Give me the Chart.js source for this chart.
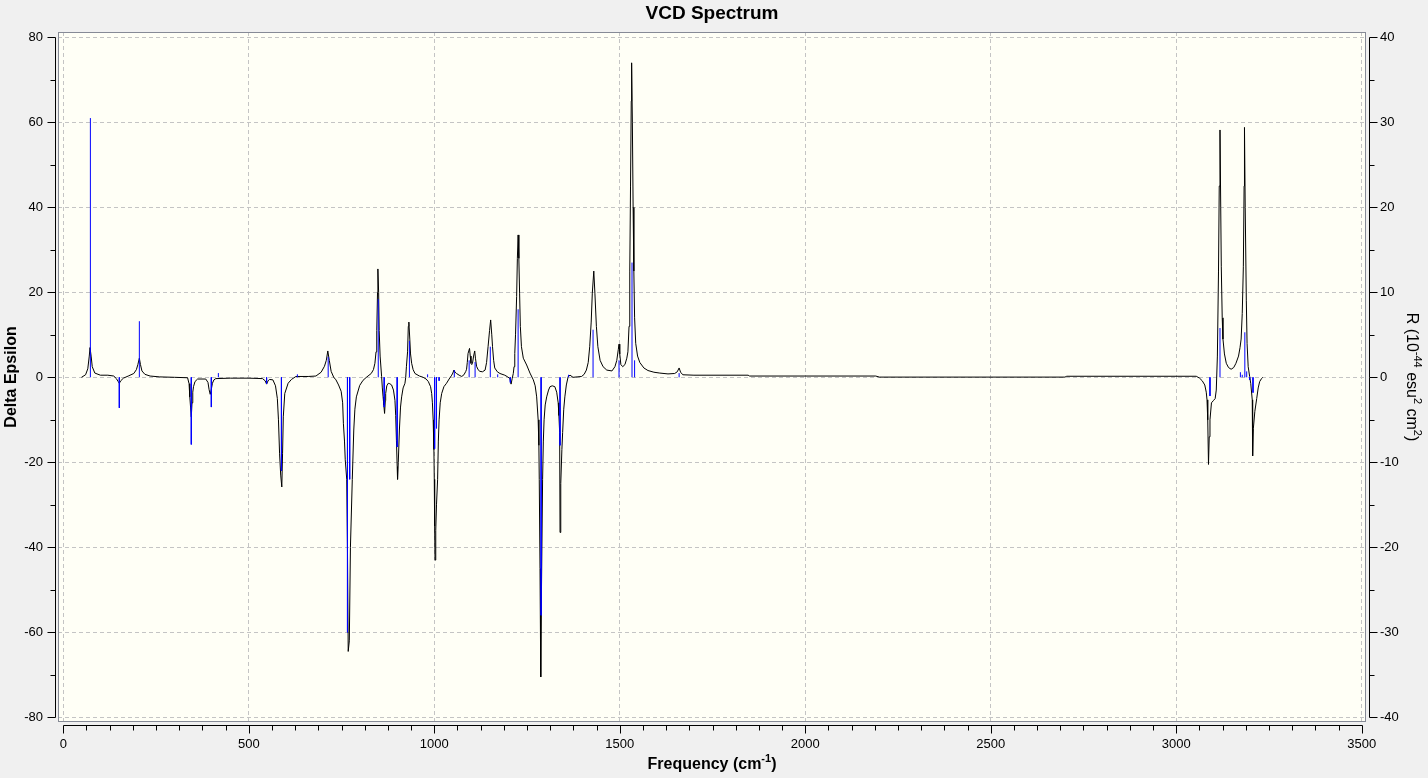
<!DOCTYPE html>
<html>
<head>
<meta charset="utf-8">
<title>VCD Spectrum</title>
<script src="https://cdn.jsdelivr.net/npm/chart.js@4.4.1/dist/chart.umd.min.js"></script>
<style>
  html, body { margin: 0; padding: 0; background: #f0f0f0; overflow: hidden; }
  canvas { display: block; }
</style>
</head>
<body>
<canvas id="chart" width="1428" height="778"></canvas>
<script>
(function () {
  'use strict';

  /* ── Data ──────────────────────────────────────── */

  const xTicks = [0, 500, 1000, 1500, 2000, 2500, 3000, 3500];
  const leftTicks = [-80, -60, -40, -20, 0, 20, 40, 60, 80];
  const rightTicks = [-40, -30, -20, -10, 0, 10, 20, 30, 40];

  // broadened spectrum: [frequency (cm-1), delta epsilon]
  const curveLow = [
    [49, 0], [60, 0.6], [66, 2], [70, 5], [72, 7], [75, 5], [78, 2.5], [85, 1],
    [100, 0.5], [120, 0.5], [136, 0.3], [143, -0.3], [148, -1], [151, -1.4],
    [155, -0.8], [162, -0.2], [175, 0.3], [190, 0.9], [197, 1.8], [201, 3],
    [205, 4.5], [208, 3], [212, 1.5], [220, 0.7], [234, 0.3], [260, 0.1],
    [300, 0], [335, -0.1], [339, -1.5], [341, -4.6], [343, -7], [345, -9.3],
    [347, -6], [349, -3.5], [351, -2.2], [355, -1], [362, -0.4], [384, -0.4],
    [390, -1.2], [393, -2.9], [396, -4], [399, -2.8], [402, -1.4], [406, -0.6],
    [411, -0.3], [450, -0.2], [500, -0.2], [537, -0.3], [544, -0.8], [548, -1.6],
    [552, -0.8], [556, -0.5], [565, -0.6], [572, -2], [577, -5], [580, -10],
    [583, -18], [586, -23], [589, -25.8], [591, -18], [593, -9.3], [597, -3.8],
    [606, -1.4], [615, -0.5], [627, 0.2], [660, 0.2], [681, 0.3], [695, 1.2]
  ];
  const curveMid = [
    [704, 2.6], [709, 4], [713, 6.2], [717, 4], [722, 1.4], [729, 0], [735, -0.6],
    [742, -1.8], [749, -3.3], [753, -6], [755, -10.8], [758, -15], [760, -19.4],
    [764, -24], [766, -40], [768, -64.5], [771, -62], [774, -40], [779, -24],
    [783, -12.4], [786, -7.5], [790, -4.6], [799, -1.9], [808, -0.7], [817, 0],
    [830, 0.9], [836, 1.8], [840, 3.3], [843, 6], [845, 11], [847, 20], [848, 25.5],
    [850, 20], [851.5, 11], [854, 5], [858, 0.2], [860, -2.5], [862, -4.6],
    [864, -6.5], [866, -8.5], [868, -5.5], [869, -3.8], [872, -2], [876, -1.4],
    [880, -1.5], [885, -1.8], [890, -3], [894, -5.4], [896, -9], [898, -14.8],
    [900, -21], [901, -24], [903, -20], [906, -12.4], [909, -7], [912, -4.6],
    [916, -2.5], [921, -1.4], [923, 0], [925, 2.6], [928, 6], [930, 12], [931.5, 13],
    [934, 9], [936, 5.5], [939, 3.3], [943, 1.8], [948, 0.9], [960, 0.3], [970, 0],
    [978, -0.4], [984, -1], [990, -2.2], [993, -3.8], [995, -6], [997, -10],
    [999, -17], [1000, -24], [1001, -35], [1002, -43], [1004, -36], [1006, -30],
    [1009, -24], [1011, -15], [1013, -10], [1016, -6], [1020, -3.8], [1026, -2.2],
    [1033, -1.4], [1040, -0.4], [1047, 0.5], [1050, 1], [1053, 1.7], [1056, 1.2],
    [1060, 0.9], [1067, 0.5], [1074, 0.2], [1080, 0.6], [1085, 1.4], [1087, 1.9],
    [1089, 3.5], [1091, 5.6], [1095, 6.8], [1097, 5], [1099, 3.3], [1101, 3],
    [1103, 3.3], [1106, 5], [1109, 6.2], [1111, 4.5], [1114, 2.6], [1118, 1.8],
    [1123, 1.4], [1130, 1.3], [1137, 1.7], [1141, 3.5], [1145, 7.2], [1149, 11],
    [1152, 13.5], [1155, 10], [1157, 7.2], [1160, 4], [1163, 2.2], [1170, 1.3],
    [1177, 0.9], [1190, 0.5], [1198, 0.1], [1204, -0.3], [1207, -1.6], [1210, -0.3],
    [1213, 0.9], [1215, 2.5], [1217, 5.6], [1219, 10], [1222, 19], [1224, 28],
    [1226, 33.5], [1228, 28], [1230, 19.8], [1232, 12], [1235, 7.2], [1240, 4.5],
    [1249, 2.9]
  ];
  const curveHigh = [
    [1258, 1], [1267, -0.6], [1272, -2], [1276, -4.6], [1280, -10], [1282, -16],
    [1283, -24], [1285, -45], [1287, -70.5], [1289, -50], [1292, -24], [1294, -15],
    [1296, -10], [1299, -6.5], [1303, -4.6], [1308, -3], [1312, -2.2], [1318, -2],
    [1325, -2.2], [1330, -3.5], [1334, -6], [1336, -9], [1338, -13], [1339, -36.5],
    [1341, -25], [1344, -17], [1346, -13], [1349, -7.5], [1352, -4.6], [1356, -1.8],
    [1361, 0.2], [1366, 0.5], [1374, 0], [1385, 0.1], [1397, 0.2], [1404, 0.7],
    [1410, 1.7], [1415, 3.5], [1419, 7.2], [1423, 13], [1426, 19.8], [1430, 25],
    [1433, 19.8], [1437, 12], [1441, 7.2], [1447, 4], [1455, 2.5], [1465, 1.7],
    [1479, 1.5], [1487, 2.5], [1492, 4], [1496, 6.5], [1498, 7.8], [1500, 5.5],
    [1503, 3], [1508, 2.5], [1514, 3], [1519, 4.5], [1522, 6], [1525, 12],
    [1527, 25], [1529, 45], [1531, 65], [1532, 74], [1534, 60], [1536, 40],
    [1538, 25], [1540, 14], [1543, 8], [1548, 5], [1554, 3.5], [1565, 2.2],
    [1576, 1.6], [1592, 1.2], [1608, 1], [1630, 0.8], [1648, 0.9], [1655, 1.3],
    [1660, 2.2], [1664, 1.2], [1670, 0.6], [1700, 0.5], [1846, 0.5], [1850, 0.3],
    [2190, 0.3], [2200, 0.05], [2700, 0.05], [2705, 0.25], [3054, 0.25]
  ];
  const curveCH = [
    [3063, -0.2], [3070, -0.8], [3077, -1.8], [3081, -3.5], [3083, -5.3],
    [3085, -10], [3087, -20.5], [3089, -14], [3091, -10], [3095, -6], [3100, -5.5],
    [3105, -5], [3108, -3], [3111, 5], [3114, 25], [3116, 45], [3118, 58.2],
    [3120, 40], [3121.5, 26], [3124, 14], [3126, 9], [3130, 5.5], [3135, 3.3],
    [3141, 2.3], [3148, 1.9], [3155, 2.3], [3161, 3.3], [3168, 5], [3172, 7],
    [3175, 9], [3178, 15], [3181, 26], [3183, 45], [3184, 58.8], [3186, 40],
    [3189, 18], [3191, 8], [3194, 2.5], [3198, 0.2], [3201, -1.5], [3205, -5.3],
    [3206, -18.5], [3208, -12], [3212, -8], [3217, -5], [3221, -2.5], [3225, -1],
    [3230, -0.3], [3233, 0]
  ];

  // rotational strengths: [frequency (cm-1), R (10^-44 esu^2 cm^2)]
  const sticks = [
    [73, 30.5], [151, -3.6], [205, 6.6], [345, -7.9], [399, -3.5], [418, 0.5],
    [548, -0.75], [588, -11], [631, 0.35], [714, 2.4], [766, -30], [772, -12],
    [849, 9.2], [865, -3.5], [900, -8.2], [933, 4.3], [982, 0.35], [1001, -8.4],
    [1006, -6], [1013, -0.4], [1054, 0.85], [1094, 2], [1110, 1.8], [1151, 3.6],
    [1171, 0.35], [1205, -0.6], [1226, 8], [1288, -28], [1339, -8], [1362, 0.3],
    [1428, 5.6], [1498, 2], [1533, 13.5], [1540, 2], [1660, 0.5],
    [3091, -2.2], [3118, 5.8], [3173, 0.6], [3178, 0.3], [3185, 5.3], [3190, 0.7],
    [3198, -0.3], [3207, -1.8]
  ];

  /* ── Build datasets ────────────────────────────── */

  const FONT = "'Liberation Sans', Arial, sans-serif";

  const curveData = [].concat(curveLow, curveMid, curveHigh, curveCH)
    .map(([f, e]) => ({ x: f, y: e }));

  const stickData = [];
  for (const [f, r] of sticks) {
    stickData.push({ x: f, y: 0 }, { x: f, y: r }, { x: f, y: null });
  }

  const setTicks = (values) => (scale) => {
    scale.ticks = values.map((v) => ({ value: v }));
  };
  const plainLabel = (v) => String(v);

  /* ── Helpers for the hand-drawn axes ───────────── */

  // draws text with superscript parts, centred on (0, 0) of the current transform
  function drawRich(ctx, parts, size, weight) {
    const supSize = Math.round(size * 0.68);
    let total = 0;
    const widths = parts.map((p) => {
      ctx.font = `${weight} ${p.sup ? supSize : size}px ${FONT}`;
      const w = ctx.measureText(p.t).width;
      total += w;
      return w;
    });
    let x = -total / 2;
    ctx.textBaseline = 'middle';
    ctx.textAlign = 'left';
    parts.forEach((p, i) => {
      ctx.font = `${weight} ${p.sup ? supSize : size}px ${FONT}`;
      ctx.fillText(p.t, x, p.sup ? -size * 0.38 : 0);
      x += widths[i];
    });
  }

  function vTicks(ctx, scale, xLine, dir, values, len) {
    for (const v of values) {
      const py = Math.round(scale.getPixelForValue(v)) + 0.5;
      ctx.moveTo(xLine, py);
      ctx.lineTo(xLine + dir * len, py);
    }
  }

  function range(from, to, step) {
    const out = [];
    for (let v = from; v <= to + 1e-9; v += step) out.push(v);
    return out;
  }

  const axesPlugin = {
    id: 'vcdAxes',
    beforeDraw(chart) {
      const { ctx, chartArea: a } = chart;
      ctx.save();
      ctx.fillStyle = '#f0f0f0';
      ctx.fillRect(0, 0, chart.width, chart.height);
      ctx.fillStyle = '#fffff6';
      ctx.fillRect(a.left, a.top, a.right - a.left, a.bottom - a.top);
      ctx.restore();
    },
    afterDraw(chart) {
      const { ctx, chartArea: a } = chart;
      const { x, y, y2 } = chart.scales;
      ctx.save();

      // plot frame
      ctx.strokeStyle = '#868a96';
      ctx.lineWidth = 1;
      ctx.strokeRect(a.left + 0.5, a.top + 0.5, a.right - a.left - 1, a.bottom - a.top - 1);

      ctx.strokeStyle = '#000';
      ctx.beginPath();
      // left axis
      const lx = a.left - 2.5;
      ctx.moveTo(lx, Math.round(y.getPixelForValue(80)) + 0.5);
      ctx.lineTo(lx, Math.round(y.getPixelForValue(-80)) + 0.5);
      vTicks(ctx, y, lx, -1, leftTicks, 8);
      vTicks(ctx, y, lx, -1, range(-70, 70, 20), 5);
      // right axis
      const rx = a.right + 3.5;
      ctx.moveTo(rx, Math.round(y2.getPixelForValue(40)) + 0.5);
      ctx.lineTo(rx, Math.round(y2.getPixelForValue(-40)) + 0.5);
      vTicks(ctx, y2, rx, 1, rightTicks, 8);
      vTicks(ctx, y2, rx, 1, range(-35, 35, 10), 5);
      // bottom axis
      const by = a.bottom + 3.5;
      ctx.moveTo(Math.round(x.getPixelForValue(0)) + 0.5, by);
      ctx.lineTo(Math.round(x.getPixelForValue(3500)) + 0.5, by);
      for (const v of range(0, 3500, 62.5)) {
        const px = Math.round(x.getPixelForValue(v)) + 0.5;
        ctx.moveTo(px, by);
        ctx.lineTo(px, by + (v % 500 === 0 ? 8 : 5));
      }
      ctx.stroke();

      // titles
      ctx.fillStyle = '#000';
      const cx = (a.left + a.right) / 2;
      ctx.save();
      ctx.translate(cx, 14);
      drawRich(ctx, [{ t: 'VCD Spectrum' }], 19, 'bold');
      ctx.restore();

      ctx.save();
      ctx.translate(cx, 765);
      drawRich(ctx, [{ t: 'Frequency (cm' }, { t: '-1', sup: true }, { t: ')' }], 16, 'bold');
      ctx.restore();

      ctx.save();
      ctx.translate(12, (a.top + a.bottom) / 2);
      ctx.rotate(-Math.PI / 2);
      drawRich(ctx, [{ t: 'Delta Epsilon' }], 16, 'bold');
      ctx.restore();

      ctx.save();
      ctx.translate(1411, (a.top + a.bottom) / 2);
      ctx.rotate(Math.PI / 2);
      drawRich(ctx, [
        { t: 'R (10' }, { t: '-44', sup: true }, { t: ' esu' }, { t: '2', sup: true },
        { t: ' cm' }, { t: '2', sup: true }, { t: ')' }
      ], 16, 'normal');
      ctx.restore();

      ctx.restore();
    }
  };

  /* ── Chart ─────────────────────────────────────── */

  const tickFont = { family: FONT, size: 13 };

  new Chart(document.getElementById('chart'), {
    type: 'line',
    data: {
      datasets: [
        {
          label: 'spectrum',
          data: curveData,
          borderColor: '#000000',
          borderWidth: 1,
          pointRadius: 0,
          tension: 0,
          yAxisID: 'y',
          order: 1
        },
        {
          label: 'rotational strength',
          data: stickData,
          borderColor: '#0000ff',
          borderWidth: 1,
          pointRadius: 0,
          tension: 0,
          spanGaps: false,
          yAxisID: 'y2',
          order: 0
        }
      ]
    },
    options: {
      responsive: false,
      animation: false,
      layout: { padding: { top: 32, left: 0, right: 0, bottom: 0 } },
      plugins: {
        legend: { display: false },
        tooltip: { enabled: false },
        title: { display: false }
      },
      scales: {
        x: {
          type: 'linear',
          min: -14.3,
          max: 3511.6,
          afterBuildTicks: setTicks(xTicks),
          afterFit: (s) => { s.height = 56; },
          ticks: { font: tickFont, color: '#000', padding: 15, maxRotation: 0, autoSkip: false, callback: plainLabel },
          grid: { color: '#c4c4c4', drawTicks: false },
          border: { display: false, dash: [4, 3] }
        },
        y: {
          type: 'linear',
          position: 'left',
          min: -81.1,
          max: 81.25,
          afterBuildTicks: setTicks(leftTicks),
          afterFit: (s) => { s.width = 58; },
          ticks: { font: tickFont, color: '#000', padding: 15, callback: plainLabel },
          grid: { color: '#c4c4c4', drawTicks: false },
          border: { display: false, dash: [4, 3] }
        },
        y2: {
          type: 'linear',
          position: 'right',
          min: -40.55,
          max: 40.625,
          afterBuildTicks: setTicks(rightTicks),
          afterFit: (s) => { s.width = 62; },
          ticks: { font: tickFont, color: '#000', padding: 14, callback: plainLabel },
          grid: { display: false, drawTicks: false },
          border: { display: false }
        }
      }
    },
    plugins: [axesPlugin]
  });
})();
</script>
</body>
</html>
